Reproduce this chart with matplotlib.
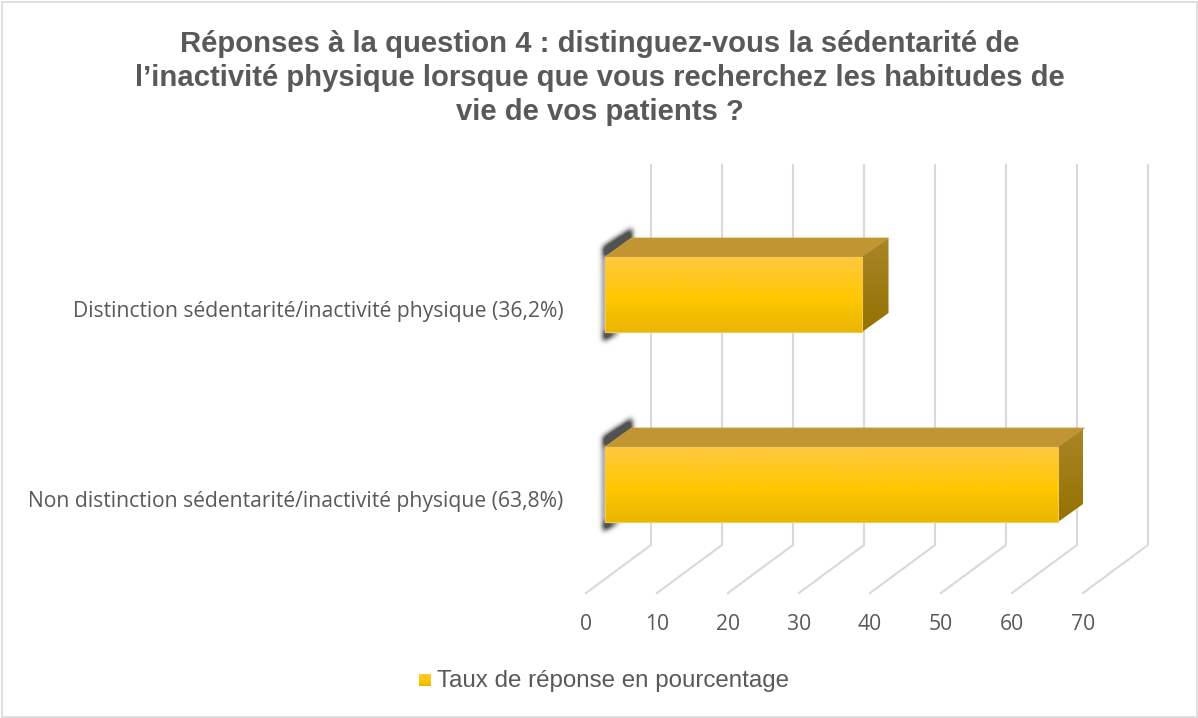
import numpy as np
import matplotlib
matplotlib.use("Agg")
import matplotlib.pyplot as plt
from matplotlib.patches import Polygon, Rectangle
from matplotlib.path import Path
from matplotlib.colors import LinearSegmentedColormap

title = ("Réponses à la question 4 : distinguez-vous la sédentarité de\n"
         "l’inactivité physique lorsque que vous recherchez les habitudes de\n"
         "vie de vos patients ?")
categories = ["Distinction sédentarité/inactivité physique (36,2%)",
              "Non distinction sédentarité/inactivité physique (63,8%)"]
values = [36.2, 63.8]
ticks = [0, 10, 20, 30, 40, 50, 60, 70]
tick_labels = ["0", "10", "20", "30", "40", "50", "60", "70"]
legend_label = "Taux de réponse en pourcentage"

W, H = 1198, 718
fig = plt.figure(figsize=(W / 100, H / 100), dpi=100, facecolor="white")
fig.add_artist(Rectangle((1.5 / W, 1.5 / H), (W - 3) / W, (H - 3) / H, fill=False,
                         ec="#D9D9D9", lw=1.2, transform=fig.transFigure))

# axes spans value 0..70 horizontally; vertical scale is in pixels from the top
x0, x70, y_top, y_bot = 586, 1083, 165, 593
ax = fig.add_axes([x0 / W, 1 - y_bot / H, (x70 - x0) / W, (y_bot - y_top) / H])
ax.set_xlim(0, 70)
ax.set_ylim(y_bot, y_top)
ax.axis("off")
px = 70 / (x70 - x0)          # one pixel in value units
dx_wall, dy_wall = 65 * px, 48
GRID = "#D9D9D9"
for t in ticks:
    ax.plot([t, t + dx_wall, t + dx_wall],
            [y_bot, y_bot - dy_wall, y_top],
            color=GRID, lw=1.5, clip_on=False, solid_joinstyle="miter", zorder=1)

front_map = LinearSegmentedColormap.from_list(
    "front", [(0, "#FFC83F"), (0.55, "#FFC800"), (1, "#E9B600")])
side_map = LinearSegmentedColormap.from_list(
    "side", [(0, "#AB8528"), (1, "#937200")])
grad = np.linspace(0, 1, 128).reshape(-1, 1)

bar_x = 19 * px
dx, dy = 26.5 * px, 19
bar_tops = [257, 447]
bar_h = 75

# blurred shadow sprite, in pixels relative to the bar's top-left corner
su = np.arange(-20, 50)
sv = np.arange(-55, 110)
uu, vv = np.meshgrid(su + 0.5, sv + 0.5)
shadow_shape = Path([(-2, -10), (27, -29), (27, -15), (0, 0), (0, bar_h), (15, bar_h), (-2, bar_h + 9)])
mask = shadow_shape.contains_points(np.c_[uu.ravel(), vv.ravel()]).reshape(uu.shape).astype(float)
kx = np.exp(-0.5 * (np.arange(-9, 10) / 2.6) ** 2)
kx /= kx.sum()
blur = np.apply_along_axis(lambda r: np.convolve(r, kx, mode="same"), 0, mask)
blur = np.apply_along_axis(lambda r: np.convolve(r, kx, mode="same"), 1, blur)
sprite = np.zeros(blur.shape + (4,))
sprite[..., :3] = 0.2
sprite[..., 3] = np.clip(blur * 1.25, 0, 0.85)

for v, top in zip(values, bar_tops):
    bot = top + bar_h
    left = bar_x
    right = bar_x + v
    ax.imshow(sprite, extent=(left + su[0] * px, left + (su[-1] + 1) * px, top + sv[-1] + 1, top + sv[0]),
              aspect="auto", zorder=2, clip_on=False, interpolation="bilinear")
    # top face
    ax.add_patch(Polygon([(left, top), (left + dx, top - dy), (right + dx, top - dy), (right, top)],
                         fc="#C09532", ec="#C9A040", lw=0.6, zorder=3, clip_on=False))
    # right face
    side = Polygon([(right, top), (right + dx, top - dy), (right + dx, bot - dy), (right, bot)],
                   fc="none", ec="none", zorder=3, clip_on=False)
    ax.add_patch(side)
    im = ax.imshow(grad, cmap=side_map, extent=(right, right + dx, bot, top - dy),
                   aspect="auto", zorder=3, clip_on=True)
    im.set_clip_path(side)
    # front face
    ax.imshow(grad, cmap=front_map, extent=(left, right, bot, top),
              aspect="auto", zorder=4, clip_on=False)
    ax.add_patch(Rectangle((left, top), v, bar_h, fill=False, ec="#F3C94F", lw=0.8, zorder=5,
                           clip_on=False))

LAB = "#595959"
for t, lab in zip(ticks, tick_labels):
    ax.text(t, 624.5, lab, ha="center", va="center", fontsize=15.2, color=LAB,
            family="Open Sans", clip_on=False)
for lab, top in zip(categories, bar_tops):
    fig.text(563.5 / W, 1 - (top + 54) / H, lab, ha="right", va="center", fontsize=15.25,
             color=LAB, family="Open Sans")

fig.text(600 / W, 1 - 78 / H, title, ha="center", va="center", fontsize=21.1, fontweight="bold",
         color=LAB, family="Liberation Sans", linespacing=1.25)

# legend swatch
lx = (419 - x0) * px
ax.imshow(grad, cmap=front_map, extent=(lx, lx + 12 * px, 686, 674),
          aspect="auto", zorder=3, clip_on=False)
ax.set_xlim(0, 70)
ax.set_ylim(y_bot, y_top)
fig.text(437 / W, 1 - 681.5 / H, legend_label, ha="left", va="center", fontsize=17.4,
         color=LAB, family="Liberation Sans")

fig.savefig("out.png", dpi=100)
